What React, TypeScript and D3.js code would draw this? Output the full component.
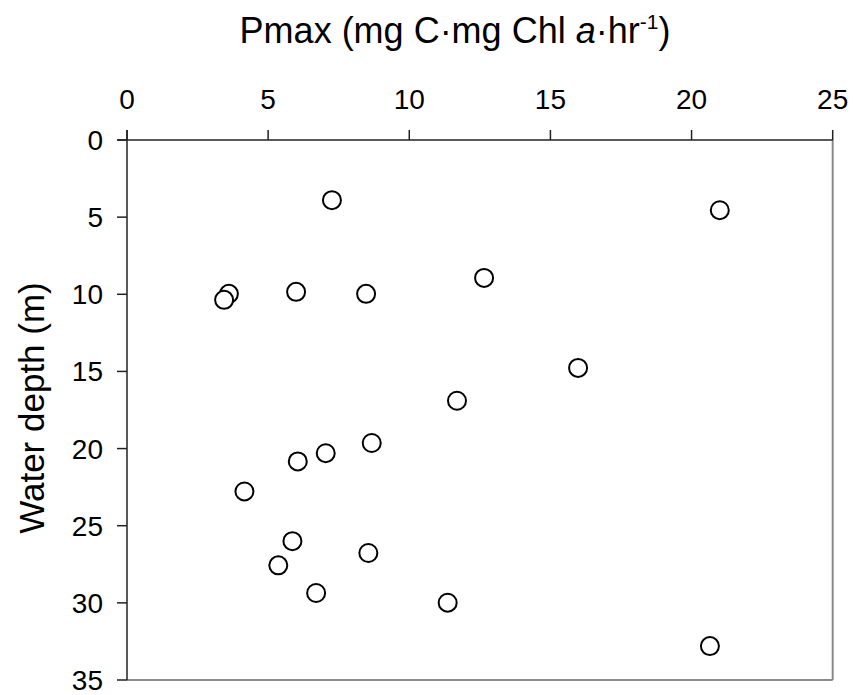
import React from "react";
import * as d3 from "d3";

const pmax: number[] = [7.26, 21.0, 12.65, 3.61, 3.44, 5.99, 8.47, 15.98, 11.69, 8.67, 7.04, 6.05, 4.16, 5.86, 8.55, 5.36, 6.70, 11.36, 20.65];
const depth: number[] = [3.9, 4.55, 8.94, 9.97, 10.36, 9.84, 9.97, 14.77, 16.9, 19.64, 20.3, 20.83, 22.78, 26.0, 26.77, 27.57, 29.36, 29.99, 32.8];
const xTicks: number[] = [0, 5, 10, 15, 20, 25];
const yTicks: number[] = [0, 5, 10, 15, 20, 25, 30, 35];

const W = 853, H = 695;
const L = 127, R = 832.7, T = 140, B = 680;
const font = "'Liberation Sans', Arial, sans-serif";

export default function App() {
  const x = d3.scaleLinear().domain([0, 25]).range([L, R]);
  const y = d3.scaleLinear().domain([0, 35]).range([T, B]);
  return (
    <svg width={W} height={H} style={{ position: "absolute", left: 0, top: 0 }} fontFamily={font}>
      <rect x={0} y={0} width={W} height={H} fill="#fff" />
      <line x1={R} y1={T} x2={R} y2={B} stroke="#8a8a8a" strokeWidth={2} />
      <line x1={L} y1={B} x2={R} y2={B} stroke="#8a8a8a" strokeWidth={2} />
      <line x1={L - 10} y1={T} x2={R} y2={T} stroke="#222" strokeWidth={1.5} />
      {xTicks.map((t) => (
        <g key={"x" + t}>
          <line x1={x(t)} y1={T - 10} x2={x(t)} y2={T} stroke="#222" strokeWidth={1.5} />
          <text x={x(t)} y={109} textAnchor="middle" fontSize={28} fill="#000">{t}</text>
        </g>
      ))}
      <line x1={L} y1={T - 10} x2={L} y2={B} stroke="#222" strokeWidth={1.5} />
      {yTicks.map((t) => (
        <g key={"y" + t}>
          <line x1={L - 10} y1={y(t)} x2={L} y2={y(t)} stroke="#222" strokeWidth={1.5} />
          <text x={103} y={y(t) + 10} textAnchor="end" fontSize={28} fill="#000">{t}</text>
        </g>
      ))}
      {pmax.map((v, i) => (
        <circle key={i} cx={x(v)} cy={y(depth[i])} r={9} fill="#fff" stroke="#000" strokeWidth={2} />
      ))}
      <text x={455} y={43} textAnchor="middle" fontSize={36} fill="#000">
        Pmax (mg C·mg Chl <tspan fontStyle="italic">a</tspan>·hr<tspan fontSize={21} dy={-14}>-1</tspan><tspan dy={14}>)</tspan>
      </text>
      <text transform={`translate(44,${(T + B) / 2 - 2}) rotate(-90)`} textAnchor="middle" fontSize={35} fill="#000">
        Water depth (m)
      </text>
    </svg>
  );
}
